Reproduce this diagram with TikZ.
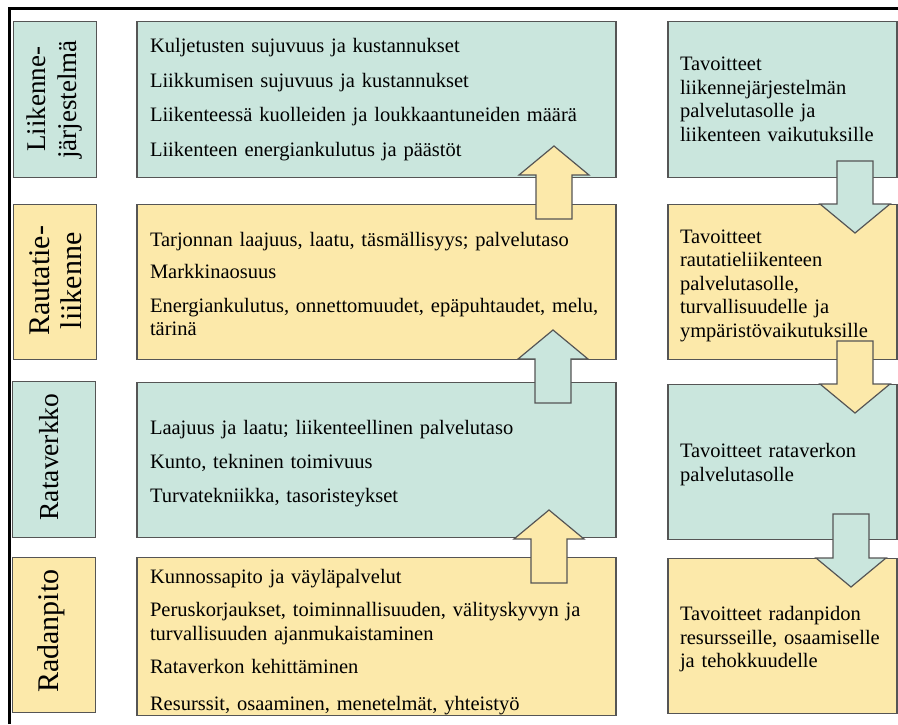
\documentclass[tikz,border=0pt]{standalone}
\usepackage{fontspec}
\setmainfont{Liberation Serif}
\usetikzlibrary{calc}

\definecolor{tealfill}{HTML}{CAE6DD}
\definecolor{yelfill}{HTML}{FCE9AA}
\definecolor{edgegray}{HTML}{555555}

\tikzset{
  box/.style={draw=edgegray, line width=1.2pt, inner sep=0pt, outer sep=0pt},
  labelbox/.style={box, minimum width=83pt, minimum height=155.5pt},
  midbox/.style={box, minimum width=479pt, minimum height=155.5pt,
    text width=453pt, align=left, font=\fontsize{20.5}{23.5}\selectfont},
  goalbox/.style={box, minimum width=229pt, minimum height=155.5pt,
    text width=205pt, align=left, font=\fontsize{20.5}{23.5}\selectfont},
  labeltext/.style={rotate=90, align=center, inner sep=0pt},
  blockarrow/.style={draw=edgegray, line width=1.2pt}
}

% taller first line, to lower a text block inside its box
\newcommand{\lowerby}[1]{\rule{0pt}{#1}}

% block arrow from the shaft end #2 to the tip #3, filled with #1
\newcommand{\blockarr}[3]{%
  \draw[blockarrow, fill=#1]
    let \p1=(#2), \p2=(#3), \n1={ifthenelse(\y2>\y1,1,-1)} in
    (\x1-18pt,\y1) -- (\x1-18pt,\y2-\n1*29pt) -- (\x1-35pt,\y2-\n1*29pt)
    -- (\x2,\y2) -- (\x1+35pt,\y2-\n1*29pt) -- (\x1+18pt,\y2-\n1*29pt)
    -- (\x1+18pt,\y1) -- cycle;}

\begin{document}
\begin{tikzpicture}[x=1pt,y=-1pt]
\useasboundingbox (0,0) rectangle (898,724);

% table frame
\draw[line width=2.6pt] (9.3,724) -- (9.3,8.5) -- (898,8.5);

% level labels
\node[labelbox, fill=tealfill] (l1) at (55,99.5) {};
\node[labeltext, font=\fontsize{27}{31}\selectfont] (l1t) at (l1) {Liikenne-\\järjestelmä};
\node[labelbox, fill=yelfill] (l2) at (55,282) {};
\node[labeltext, font=\fontsize{30}{32}\selectfont] (l2t) at (55.5,281) {Rautatie-\\liikenne};
\node[labelbox, fill=tealfill] (l3) at (54,459.5) {};
\node[labeltext, font=\fontsize{27.5}{31}\selectfont] (l3t) at (49,457) {Rataverkko};
\node[labelbox, fill=yelfill] (l4) at (54,635) {};
\node[labeltext, font=\fontsize{30}{31}\selectfont] (l4t) at (51,631) {Radanpito};

% indicators per level
\node[midbox, fill=tealfill] (m1) at (376.5,99.5) {%
  Kuljetusten sujuvuus ja kustannukset\\[11pt]
  Liikkumisen sujuvuus ja kustannukset\\[11pt]
  Liikenteessä kuolleiden ja loukkaantuneiden määrä\\[11pt]
  Liikenteen energiankulutus ja päästöt};
\node[midbox, fill=yelfill] (m2) at (376.5,282) {%
  \lowerby{18pt}Tarjonnan laajuus, laatu, täsmällisyys; palvelutaso\\[9pt]
  Markkinaosuus\\[10pt]
  Energiankulutus, onnettomuudet, epäpuhtaudet, melu,\\
  tärinä};
\node[midbox, fill=tealfill] (m3) at (376.5,460) {%
  \lowerby{22pt}Laajuus ja laatu; liikenteellinen palvelutaso\\[10.5pt]
  Kunto, tekninen toimivuus\\[10.5pt]
  Turvatekniikka, tasoristeykset};
\node[midbox, fill=yelfill] (m4) at (376.5,636.5) {%
  \lowerby{26pt}Kunnossapito ja väyläpalvelut\\[9.5pt]
  Peruskorjaukset, toiminnallisuuden, välityskyvyn ja\\
  turvallisuuden ajanmukaistaminen\\[9.5pt]
  Rataverkon kehittäminen\\[14pt]
  Resurssit, osaaminen, menetelmät, yhteistyö};

% goals per level
\node[goalbox, fill=tealfill] (r1) at (782.5,99.5) {%
  Tavoitteet\\liikennejärjestelmän\\palvelutasolle ja\\liikenteen vaikutuksille};
\node[goalbox, fill=yelfill] (r2) at (782.5,282) {%
  \lowerby{21pt}Tavoitteet\\rautatieliikenteen\\palvelutasolle,\\turvallisuudelle ja\\ympäristövaikutuksille};
\node[goalbox, fill=tealfill] (r3) at (782.5,462) {%
  \lowerby{19pt}Tavoitteet rataverkon\\palvelutasolle};
\node[goalbox, fill=yelfill] (r4) at (782.5,636) {%
  \lowerby{21pt}Tavoitteet radanpidon\\resursseille, osaamiselle\\ja tehokkuudelle};

% arrow end points
\coordinate (u1s) at (554,219);  \coordinate (u1t) at (554,146);
\coordinate (u2s) at (553,403);  \coordinate (u2t) at (553,330);
\coordinate (u3s) at (549,583);  \coordinate (u3t) at (549,510);
\coordinate (d1s) at (855,161);  \coordinate (d1t) at (855,233);
\coordinate (d2s) at (855,341);  \coordinate (d2t) at (855,413);
\coordinate (d3s) at (851,514);  \coordinate (d3t) at (851,587);

% upward: indicators build on the level below
\blockarr{yelfill}{u1s}{u1t}
\blockarr{tealfill}{u2s}{u2t}
\blockarr{yelfill}{u3s}{u3t}

% downward: goals cascade to the level below
\blockarr{tealfill}{d1s}{d1t}
\blockarr{yelfill}{d2s}{d2t}
\blockarr{tealfill}{d3s}{d3t}
\end{tikzpicture}
\end{document}
